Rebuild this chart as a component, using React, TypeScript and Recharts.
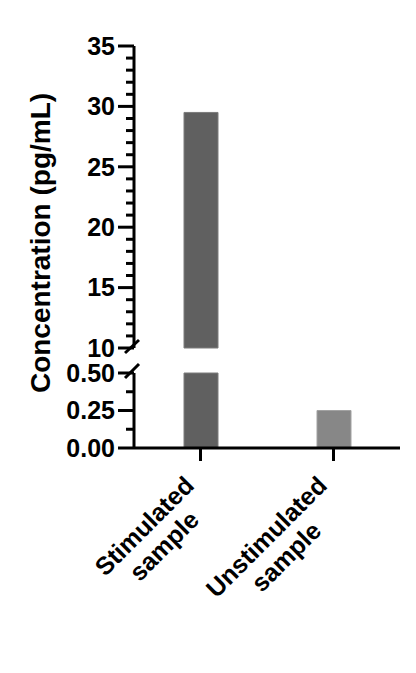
import React from "react"
import { BarChart, Bar, XAxis, YAxis, Cell } from "recharts"

const categories = ["Stimulated sample", "Unstimulated sample"]
const concentrations = [29.5, 0.25]
const barColors = ["#606060", "#878787"]
const barEdges = ["#7c7c7c", "#a2a2a2"]

const upperMajor = [10, 15, 20, 25, 30, 35]
const upperTicks = [10, 11, 12, 13, 14, 15, 16, 17, 18, 19, 20, 21, 22, 23, 24, 25, 26, 27, 28, 29, 30, 31, 32, 33, 34, 35]
const lowerMajor = [0, 0.25, 0.5]
const lowerTicks = [0, 0.125, 0.25, 0.375, 0.5]

const FONT = "'Liberation Sans', Arial, sans-serif"

const data = categories.map((name, i) => ({ name, value: concentrations[i] }))

const measure = (() => {
  let ctx: CanvasRenderingContext2D | null = null
  return (txt: string) => {
    if (!ctx) ctx = document.createElement("canvas").getContext("2d")
    if (!ctx) return txt.length * 14
    ctx.font = `bold 25px ${FONT}`
    return ctx.measureText(txt).width
  }
})()

function YTick(props: any) {
  const { x, y, payload, major, digits } = props
  const isMajor = major.includes(payload.value)
  const len = isMajor ? 16 : 8
  return (
    <g>
      <line x1={x} y1={y} x2={x - len} y2={y} stroke="#000" strokeWidth={3} />
      {isMajor && (
        <text
          x={x - len - 3}
          y={y}
          dy="0.355em"
          textAnchor="end"
          fontFamily={FONT}
          fontWeight="bold"
          fontSize={25}
          fill="#000"
        >
          {Number(payload.value).toFixed(digits)}
        </text>
      )}
    </g>
  )
}

function XTick(props: any) {
  const { x, y, payload } = props
  const words = String(payload.value).split(" ")
  const w = Math.max(...words.map(measure))
  return (
    <g transform={`translate(${x - 5},${y + 26}) rotate(-45)`}>
      <text textAnchor="middle" fontFamily={FONT} fontWeight="bold" fontSize={25} fill="#000">
        {words.map((wd, i) => (
          <tspan key={wd} x={-w / 2} y={i * 28}>
            {wd}
          </tspan>
        ))}
      </text>
    </g>
  )
}

export default function App() {
  return (
    <div style={{ position: "relative", width: 416, height: 673, margin: -8, background: "#fff" }}>
      <div style={{ position: "absolute", left: 0, top: 0 }}>
        <BarChart width={416} height={372} data={data} margin={{ top: 46, right: 16, bottom: 24, left: 0 }} barSize={34}>
          <XAxis dataKey="name" hide />
          <YAxis
            width={134}
            type="number"
            domain={[10, 35]}
            ticks={upperTicks}
            interval={0}
            tickSize={0}
            tickMargin={0}
            tickLine={false}
            axisLine={{ stroke: "#000", strokeWidth: 3 }}
            tick={<YTick major={upperMajor} digits={0} />}
          />
          <Bar dataKey={(d: any) => (d.value > 10 ? d.value : null)} isAnimationActive={false}>
            {data.map((d, i) => (
              <Cell key={d.name} fill={barColors[i]} stroke={barEdges[i]} strokeWidth={1} />
            ))}
          </Bar>
        </BarChart>
      </div>
      <div style={{ position: "absolute", left: 0, top: 340 }}>
        <BarChart width={416} height={333} data={data} margin={{ top: 33, right: 16, bottom: 0, left: 0 }} barSize={34}>
          <XAxis
            dataKey="name"
            height={225}
            interval={0}
            tickSize={13}
            tickMargin={0}
            tickLine={{ stroke: "#000", strokeWidth: 3 }}
            axisLine={{ stroke: "#000", strokeWidth: 3 }}
            tick={<XTick />}
          />
          <YAxis
            width={134}
            type="number"
            domain={[0, 0.5]}
            ticks={lowerTicks}
            interval={0}
            tickSize={0}
            tickMargin={0}
            tickLine={false}
            axisLine={{ stroke: "#000", strokeWidth: 3 }}
            tick={<YTick major={lowerMajor} digits={2} />}
          />
          <Bar dataKey={(d: any) => Math.min(d.value, 0.5)} isAnimationActive={false}>
            {data.map((d, i) => (
              <Cell key={d.name} fill={barColors[i]} stroke={barEdges[i]} strokeWidth={1} />
            ))}
          </Bar>
        </BarChart>
      </div>
      <svg width={416} height={673} style={{ position: "absolute", left: 0, top: 0, pointerEvents: "none" }}>
        <text
          x={50}
          y={243}
          transform="rotate(-90 50 243)"
          textAnchor="middle"
          fontFamily={FONT}
          fontWeight="bold"
          fontSize={28}
          fill="#000"
        >
          Concentration (pg/mL)
        </text>
        <line x1={125} y1={353} x2={139} y2={340} stroke="#000" strokeWidth={3} />
        <line x1={125} y1={378} x2={139} y2={364} stroke="#000" strokeWidth={3} />
      </svg>
    </div>
  )
}
